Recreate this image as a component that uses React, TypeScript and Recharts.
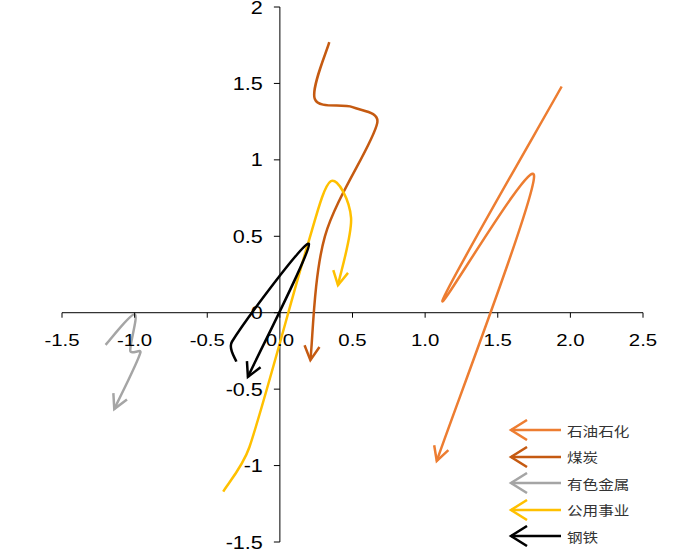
import { ComposedChart, Line, Scatter, XAxis, YAxis, ReferenceLine } from 'recharts';

const WIDTH = 697;
const HEIGHT = 553;

const X_TICKS = [-1.5, -1, -0.5, 0, 0.5, 1, 1.5, 2, 2.5];
const Y_TICKS = [2, 1.5, 1, 0.5, 0, -0.5, -1, -1.5];

// trajectories (x, y)
const petro = [
  { x: 1.94, y: 1.48 },
  { x: 1.12, y: 0.08 },
  { x: 1.75, y: 0.89 },
  { x: 1.08, y: -0.97 },
];
const coal = [
  { x: 0.34, y: 1.77 },
  { x: 0.24, y: 1.4 },
  { x: 0.5, y: 1.345 },
  { x: 0.67, y: 1.24 },
  { x: 0.31, y: 0.5 },
  { x: 0.21, y: -0.31 },
];
const metals = [
  { x: -1.2, y: -0.21 },
  { x: -1.0, y: -0.01 },
  { x: -1.03, y: -0.25 },
  { x: -0.96, y: -0.26 },
  { x: -1.14, y: -0.63 },
];
const utilities = [
  { x: -0.39, y: -1.17 },
  { x: -0.21, y: -0.88 },
  { x: 0.19, y: 0.44 },
  { x: 0.35, y: 0.86 },
  { x: 0.49, y: 0.62 },
  { x: 0.4, y: 0.18 },
];
const steel = [
  { x: -0.3, y: -0.32 },
  { x: -0.33, y: -0.19 },
  { x: 0.2, y: 0.45 },
  { x: -0.22, y: -0.42 },
];

const SERIES = [
  { id: 'petro', name: '石油石化', color: '#ED7D31', data: petro },
  { id: 'coal', name: '煤炭', color: '#C55A11', data: coal },
  { id: 'metals', name: '有色金属', color: '#A5A5A5', data: metals },
  { id: 'utilities', name: '公用事业', color: '#FFC000', data: utilities },
  { id: 'steel', name: '钢铁', color: '#000000', data: steel },
];

const xTickData = X_TICKS.map((v) => ({ x: v, y: 0, label: v.toFixed(1) }));
const yTickData = Y_TICKS.map((v) => ({ x: 0, y: v, label: String(v) }));

const NUM_FONT = '"Liberation Sans", Arial, sans-serif';

// excel-like smoothed line: cardinal bezier, control arms clamped on short segments
function excelSmooth(context: any) {
  let pts: number[][] = [];
  const arm = (i: number, j: number, n: number, sign: number) => {
    const a = pts[Math.max(i - 1, 0)];
    const b = pts[Math.min(i + 1, n - 1)];
    let tx = (b[0] - a[0]) / 6;
    let ty = (b[1] - a[1]) / 6;
    const len = Math.hypot(tx, ty);
    const seg = Math.hypot(pts[j][0] - pts[i][0], pts[j][1] - pts[i][1]);
    const max = seg * 0.4;
    if (len > max && len > 0) {
      tx *= max / len;
      ty *= max / len;
    }
    return [pts[i][0] + sign * tx, pts[i][1] + sign * ty];
  };
  return {
    areaStart() {},
    areaEnd() {},
    lineStart() {
      pts = [];
    },
    point(x: number, y: number) {
      pts.push([+x, +y]);
    },
    lineEnd() {
      const n = pts.length;
      if (!n) return;
      context.moveTo(pts[0][0], pts[0][1]);
      for (let i = 0; i < n - 1; i++) {
        const c1 = arm(i, i + 1, n, 1);
        const c2 = arm(i + 1, i, n, -1);
        context.bezierCurveTo(c1[0], c1[1], c2[0], c2[1], pts[i + 1][0], pts[i + 1][1]);
      }
    },
  };
}

function XTick({ cx, cy, payload }: any) {
  return (
    <g>
      <line x1={cx} y1={cy} x2={cx} y2={cy + 5} stroke="#000" />
      <g transform={`translate(${cx},${cy + 33}) scale(1.2,1)`}>
        <text x={0} y={0} textAnchor="middle" fontSize={17} fontFamily={NUM_FONT} fill="#000">
          {payload.label}
        </text>
      </g>
    </g>
  );
}

function YTick({ cx, cy, payload }: any) {
  return (
    <g>
      <line x1={cx - 6} y1={cy} x2={cx} y2={cy} stroke="#000" />
      <g transform={`translate(${cx - 17},${cy + 6.5}) scale(1.2,1)`}>
        <text x={0} y={0} textAnchor="end" fontSize={18} fontFamily={NUM_FONT} fill="#000">
          {payload.label}
        </text>
      </g>
    </g>
  );
}

function ArrowLegend() {
  return (
    <div style={{ position: 'absolute', left: 506, top: 417 }}>
      {SERIES.map((s) => (
        <div key={s.id} style={{ display: 'flex', alignItems: 'center', height: 26.5 }}>
          <svg width={58} height={22}>
            <line x1={5} y1={11} x2={55} y2={11} stroke={s.color} strokeWidth={2.5} />
            <polyline points="21,1 5,11 21,21" fill="none" stroke={s.color} strokeWidth={2.5} />
          </svg>
          <span
            style={{
              marginLeft: 3,
              fontFamily: '"Noto Sans CJK SC", sans-serif',
              fontSize: 13,
              color: '#333',
              transform: 'scaleX(1.2)',
              transformOrigin: 'left center',
              whiteSpace: 'nowrap',
            }}
          >
            {s.name}
          </span>
        </div>
      ))}
    </div>
  );
}

export default function App() {
  return (
    <div style={{ position: 'relative', width: WIDTH, height: HEIGHT, background: '#fff' }}>
      <style>{'body{margin:0}'}</style>
      <svg width={0} height={0} style={{ position: 'absolute' }}>
        <defs>
          {SERIES.map((s) => (
            <marker
              key={s.id}
              id={`arrow-${s.id}`}
              markerUnits="userSpaceOnUse"
              markerWidth={40}
              markerHeight={40}
              viewBox="-20 -20 40 40"
              refX={0}
              refY={0}
              orient="auto"
              overflow="visible"
            >
              <polyline points="-14,-7.5 0,0 -14,7.5" fill="none" stroke={s.color} strokeWidth={2.5} />
            </marker>
          ))}
        </defs>
      </svg>
      <ComposedChart width={WIDTH} height={HEIGHT} margin={{ top: 7, right: 54, bottom: 11, left: 62 }}>
        <XAxis type="number" dataKey="x" domain={[-1.5, 2.5]} ticks={X_TICKS} hide />
        <YAxis type="number" dataKey="y" domain={[-1.5, 2]} ticks={Y_TICKS} hide />
        <ReferenceLine y={0} stroke="#000" strokeWidth={1} />
        <ReferenceLine x={0} stroke="#000" strokeWidth={1} />
        <Scatter data={xTickData} shape={(p: any) => <XTick {...p} />} isAnimationActive={false} />
        <Scatter data={yTickData} shape={(p: any) => <YTick {...p} />} isAnimationActive={false} />
        {SERIES.map((s) => (
          <Line
            key={s.id}
            data={s.data}
            dataKey="y"
            name={s.name}
            type={excelSmooth as any}
            stroke={s.color}
            strokeWidth={2.5}
            dot={false}
            activeDot={false}
            markerEnd={`url(#arrow-${s.id})`}
            isAnimationActive={false}
          />
        ))}
      </ComposedChart>
      <ArrowLegend />
    </div>
  );
}
